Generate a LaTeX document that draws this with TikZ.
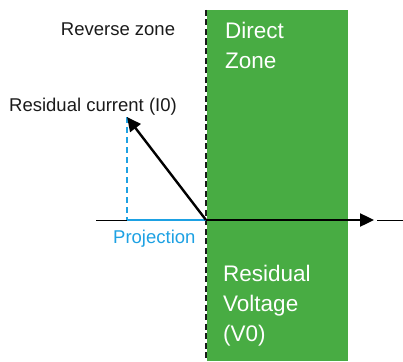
\documentclass[tikz,border=0pt]{standalone}
\usepackage{fontspec}
\setmainfont{Liberation Sans}
\usetikzlibrary{arrows.meta, positioning}
\definecolor{zoneGreen}{HTML}{48AC43}
\definecolor{projBlue}{HTML}{1DA1E3}
\definecolor{textDark}{HTML}{1A1A1A}

\begin{document}
\begin{tikzpicture}[x=1pt, y=-1pt, font=\fontsize{18.5}{22}\selectfont,
    zonetext/.style={text=white, font=\fontsize{22.5}{30}\selectfont, align=left, anchor=north west, inner sep=0pt},
    vec/.style={line width=2.4pt, -{Triangle[length=14pt, width=13pt]}}]
  \useasboundingbox (0,0) rectangle (403,361);
  % zona directa
  \fill[zoneGreen] (207,10) rectangle (348,361);
  \coordinate (O) at (206,220);
  \coordinate (topD) at (206,10);
  \coordinate (botD) at (206,361);
  \draw[dashed, line width=1.5pt, dash pattern=on 6pt off 3.5pt, textDark] (topD) -- (botD);
  % eje
  \coordinate (axL) at (96,220);
  \coordinate (axR) at (403,220);
  \coordinate (tipV) at (374,220);
  \coordinate (axR0) at (377,220);
  \draw[line width=0.9pt, black] (axL) -- (O);
  \draw[line width=0.9pt, black] (axR0) -- (axR);
  % corriente residual y proyeccion
  \coordinate (tipI) at (127,117);
  \coordinate (foot) at (127,220);
  \draw[projBlue, line width=2.4pt, dash pattern=on 6pt off 4pt] (tipI) -- (foot);
  \draw[projBlue, line width=2.2pt] (foot) -- (O);
  \draw[vec] (O) -- (tipI);
  \draw[vec] (O) -- (tipV);
  % textos
  \node[text=textDark, anchor=base] (rev) at (118,35) {Reverse zone};
  \node[text=textDark, anchor=base west, inner sep=0pt] (cur) at (9,111) {Residual current (I0)};
  \node[text=projBlue, anchor=base west, inner sep=0pt] (proj) at (113,243) {Projection};
  \node[zonetext] (dir) at (225,22) {Direct\\Zone};
  \node[zonetext] (volt) at (223,265) {Residual\\Voltage\\(V0)};
\end{tikzpicture}
\end{document}
